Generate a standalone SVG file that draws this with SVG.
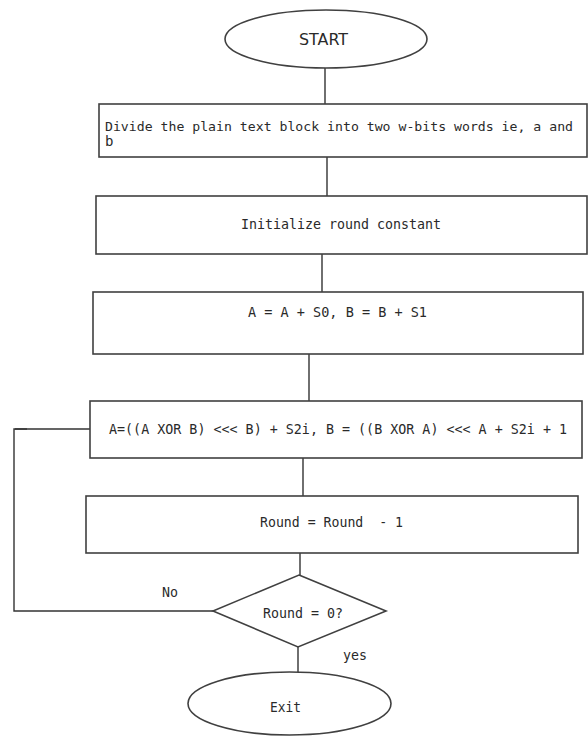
<svg xmlns="http://www.w3.org/2000/svg" width="588" height="736" viewBox="0 0 588 736">
<style>
.shape{fill:#ffffff;stroke:#404040;stroke-width:1.6}
.conn{fill:none;stroke:#333333;stroke-width:1.4}
.t{font-family:"DejaVu Sans Mono","Liberation Mono",monospace;font-size:14px;fill:#2a2a2a}
.s{font-family:"DejaVu Sans","Liberation Sans",sans-serif;font-size:16px;fill:#2a2a2a}
</style>
<rect width="588" height="736" fill="#ffffff"/>
<g id="connectors">
<line class="conn" x1="325" y1="68" x2="325" y2="104"/>
<line class="conn" x1="327" y1="157" x2="327" y2="196"/>
<line class="conn" x1="322" y1="254" x2="322" y2="292"/>
<line class="conn" x1="309" y1="354" x2="309" y2="401"/>
<line class="conn" x1="303" y1="458" x2="303" y2="496"/>
<line class="conn" x1="300" y1="553" x2="300" y2="575"/>
<line class="conn" x1="298" y1="647" x2="298" y2="672"/>
<polyline class="conn" points="213,611 14,611 14,429 90,429"/>
<line class="conn" x1="15" y1="429" x2="27" y2="429" stroke-width="2.6"/>
<text class="t" x="162" y="597" textLength="16" lengthAdjust="spacingAndGlyphs">No</text>
<text class="t" x="343" y="660" textLength="24" lengthAdjust="spacingAndGlyphs">yes</text>
</g>
<g id="start">
<ellipse class="shape" cx="326" cy="39" rx="101" ry="29"/>
<text class="s" x="299" y="45" textLength="49" lengthAdjust="spacingAndGlyphs">START</text>
</g>
<g id="divide">
<rect class="shape" x="99" y="104" width="488" height="53"/>
<text class="t" x="105" y="131" style="font-size:13.1px" textLength="468" lengthAdjust="spacingAndGlyphs">Divide the plain text block into two w-bits words ie, a and</text>
<text class="t" x="105" y="146">b</text>
</g>
<g id="init">
<rect class="shape" x="96" y="196" width="491" height="58"/>
<text class="t" x="241" y="229" textLength="200" lengthAdjust="spacingAndGlyphs">Initialize round constant</text>
</g>
<g id="addkeys">
<rect class="shape" x="93" y="292" width="490" height="62"/>
<text class="t" x="248" y="317" textLength="179" lengthAdjust="spacingAndGlyphs">A = A + S0, B = B + S1</text>
</g>
<g id="round">
<rect class="shape" x="90" y="401" width="492" height="57"/>
<text class="t" x="109" y="434" textLength="458" lengthAdjust="spacingAndGlyphs">A=((A XOR B) &lt;&lt;&lt; B) + S2i, B = ((B XOR A) &lt;&lt;&lt; A + S2i + 1</text>
</g>
<g id="decrement">
<rect class="shape" x="86" y="496" width="492" height="57"/>
<text class="t" x="260" y="527" textLength="143" lengthAdjust="spacingAndGlyphs" xml:space="preserve">Round = Round  - 1</text>
</g>
<g id="decision">
<polygon class="shape" points="299,575 386,611 298,647 213,611"/>
<text class="t" x="263" y="618" textLength="80" lengthAdjust="spacingAndGlyphs">Round = 0?</text>
</g>
<g id="exit">
<ellipse class="shape" cx="289.5" cy="703.5" rx="101.5" ry="31.5"/>
<text class="t" x="270" y="712" textLength="31" lengthAdjust="spacingAndGlyphs">Exit</text>
</g>
</svg>
